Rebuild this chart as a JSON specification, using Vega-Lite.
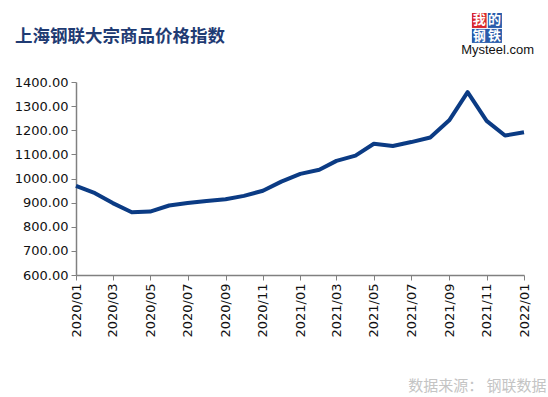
{
  "$schema": "https://vega.github.io/schema/vega-lite/v6.json",
  "autosize": "none",
  "width": 448,
  "height": 193,
  "padding": {"left": 76, "top": 82, "right": 24, "bottom": 122},
  "background": "white",
  "config": {"view": {"stroke": null}, "font": "DejaVu Sans"},
  "resolve": {"axis": {"x": "independent", "y": "independent"}},
  "data": {
    "values": [
      {"date": "2020-01-01", "index": 969},
      {"date": "2020-02-01", "index": 939},
      {"date": "2020-03-01", "index": 898},
      {"date": "2020-04-01", "index": 860},
      {"date": "2020-05-01", "index": 863},
      {"date": "2020-06-01", "index": 888},
      {"date": "2020-07-01", "index": 898},
      {"date": "2020-08-01", "index": 907},
      {"date": "2020-09-01", "index": 914},
      {"date": "2020-10-01", "index": 928},
      {"date": "2020-11-01", "index": 949},
      {"date": "2020-12-01", "index": 987},
      {"date": "2021-01-01", "index": 1019},
      {"date": "2021-02-01", "index": 1036},
      {"date": "2021-03-01", "index": 1073},
      {"date": "2021-04-01", "index": 1095},
      {"date": "2021-05-01", "index": 1144},
      {"date": "2021-06-01", "index": 1135},
      {"date": "2021-07-01", "index": 1151},
      {"date": "2021-08-01", "index": 1170},
      {"date": "2021-09-01", "index": 1241},
      {"date": "2021-10-01", "index": 1358},
      {"date": "2021-11-01", "index": 1239},
      {"date": "2021-12-01", "index": 1178},
      {"date": "2022-01-01", "index": 1192}
    ]
  },
  "layer": [
    {
      "mark": {"type": "line", "color": "#0b3b84", "strokeWidth": 4, "strokeJoin": "round"},
      "encoding": {
        "x": {
          "field": "date",
          "type": "temporal",
          "scale": {"domain": ["2020-01-01", "2022-01-01"], "nice": false},
          "axis": {
            "format": "%Y/%m",
            "tickCount": {"interval": "month", "step": 2},
            "labelAngle": -90,
            "labelAlign": "right",
            "labelBaseline": "middle",
            "labelFontSize": 13,
            "labelColor": "#111111",
            "labelPadding": 3,
            "labelOverlap": false,
            "grid": false,
            "domainColor": "#808080",
            "domainWidth": 1.5,
            "tickColor": "#808080",
            "tickSize": 5,
            "title": "数据来源： 钢联数据",
            "titleFont": "Noto Sans CJK SC",
            "titleFontSize": 15,
            "titleFontWeight": "normal",
            "titleColor": "#c4c4c4",
            "titleAlign": "right",
            "titleAnchor": "end",
            "titleX": 470,
            "titleY": 110,
            "titleBaseline": "middle"
          }
        },
        "y": {
          "field": "index",
          "type": "quantitative",
          "scale": {"domain": [600, 1400], "nice": false, "zero": false},
          "axis": {
            "values": [600, 700, 800, 900, 1000, 1100, 1200, 1300, 1400],
            "format": ".2f",
            "labelFontSize": 13,
            "labelColor": "#111111",
            "labelPadding": 3,
            "labelOverlap": false,
            "labelBound": false,
            "grid": false,
            "domainColor": "#808080",
            "domainWidth": 1.5,
            "tickColor": "#808080",
            "tickSize": 5,
            "title": null
          }
        }
      }
    },
    {
      "data": {"values": [{}]},
      "mark": {"type": "text", "color": "#1f3b73", "font": "Noto Sans CJK SC", "fontSize": 17.5, "fontWeight": "bold", "baseline": "middle", "align": "left", "dx": -61},
      "encoding": {
        "x": {"datum": {"year": 2020, "month": 1, "date": 1, "utc": true}, "type": "temporal", "axis": null},
        "y": {"datum": 1586, "type": "quantitative", "axis": null},
        "text": {"value": "上海钢联大宗商品价格指数"}
      }
    },
    {
      "data": {"values": [{}]},
      "mark": {"type": "rect", "color": "#d9262c"},
      "encoding": {
        "x": {"datum": {"year": 2021, "month": 10, "date": 8, "utc": true}, "type": "temporal", "axis": null},
        "x2": {"datum": {"year": 2021, "month": 11, "date": 1, "utc": true}},
        "y": {"datum": 1686, "type": "quantitative", "axis": null},
        "y2": {"datum": 1624}
      }
    },
    {
      "data": {"values": [{}]},
      "mark": {"type": "rect", "color": "#2a5cab"},
      "encoding": {
        "x": {"datum": {"year": 2021, "month": 11, "date": 3, "utc": true}, "type": "temporal", "axis": null},
        "x2": {"datum": {"year": 2021, "month": 11, "date": 26, "utc": true}},
        "y": {"datum": 1686, "type": "quantitative", "axis": null},
        "y2": {"datum": 1624}
      }
    },
    {
      "data": {"values": [{}]},
      "mark": {"type": "rect", "color": "#2a5cab"},
      "encoding": {
        "x": {"datum": {"year": 2021, "month": 10, "date": 8, "utc": true}, "type": "temporal", "axis": null},
        "x2": {"datum": {"year": 2021, "month": 11, "date": 26, "utc": true}},
        "y": {"datum": 1620, "type": "quantitative", "axis": null},
        "y2": {"datum": 1562}
      }
    },
    {
      "data": {"values": [{}]},
      "mark": {"type": "text", "color": "white", "font": "Noto Sans CJK SC", "fontSize": 13, "fontWeight": "bold", "baseline": "middle", "align": "center"},
      "encoding": {
        "x": {"datum": {"year": 2021, "month": 10, "date": 20, "utc": true}, "type": "temporal", "axis": null},
        "y": {"datum": 1655, "type": "quantitative", "axis": null},
        "text": {"value": "我"}
      }
    },
    {
      "data": {"values": [{}]},
      "mark": {"type": "text", "color": "white", "font": "Noto Sans CJK SC", "fontSize": 13, "fontWeight": "bold", "baseline": "middle", "align": "center"},
      "encoding": {
        "x": {"datum": {"year": 2021, "month": 11, "date": 14, "utc": true}, "type": "temporal", "axis": null},
        "y": {"datum": 1655, "type": "quantitative", "axis": null},
        "text": {"value": "的"}
      }
    },
    {
      "data": {"values": [{}]},
      "mark": {"type": "text", "color": "white", "font": "Noto Sans CJK SC", "fontSize": 13, "fontWeight": "bold", "baseline": "middle", "align": "center"},
      "encoding": {
        "x": {"datum": {"year": 2021, "month": 10, "date": 20, "utc": true}, "type": "temporal", "axis": null},
        "y": {"datum": 1591, "type": "quantitative", "axis": null},
        "text": {"value": "钢"}
      }
    },
    {
      "data": {"values": [{}]},
      "mark": {"type": "text", "color": "white", "font": "Noto Sans CJK SC", "fontSize": 13, "fontWeight": "bold", "baseline": "middle", "align": "center"},
      "encoding": {
        "x": {"datum": {"year": 2021, "month": 11, "date": 14, "utc": true}, "type": "temporal", "axis": null},
        "y": {"datum": 1591, "type": "quantitative", "axis": null},
        "text": {"value": "铁"}
      }
    },
    {
      "data": {"values": [{}]},
      "mark": {"type": "text", "color": "#111111", "font": "Liberation Sans", "fontSize": 13, "baseline": "middle", "align": "center"},
      "encoding": {
        "x": {"datum": {"year": 2021, "month": 11, "date": 19, "utc": true}, "type": "temporal", "axis": null},
        "y": {"datum": 1532, "type": "quantitative", "axis": null},
        "text": {"value": "Mysteel.com"}
      }
    }
  ]
}
